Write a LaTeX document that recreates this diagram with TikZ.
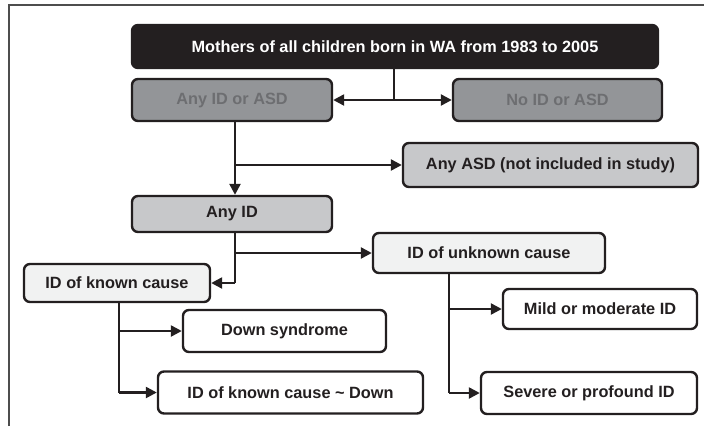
\documentclass[tikz,border=0pt]{standalone}
\usepackage{fontspec}
\setmainfont{Liberation Sans}
\usetikzlibrary{arrows.meta}
\definecolor{ink}{HTML}{231F20}
\definecolor{midgray}{HTML}{939598}
\definecolor{midtext}{HTML}{6D6E71}
\definecolor{lightgray}{HTML}{C7C8CA}
\definecolor{palegray}{HTML}{F1F2F2}
\definecolor{framegray}{HTML}{4D4D4D}
\tikzset{
  box/.style={draw=ink, line width=2.4pt, rounded corners=6pt, inner sep=0pt,
    font=\fontsize{16.3}{19}\selectfont\bfseries, align=center},
  blackbox/.style={box, fill=ink, text=white},
  graybox/.style={box, fill=midgray, text=midtext},
  lgraybox/.style={box, fill=lightgray, text=ink},
  palebox/.style={box, fill=palegray, text=ink},
  whitebox/.style={box, fill=white, text=ink},
  link/.style={draw=ink, line width=2.4pt},
  arr/.style={link, -{Triangle[length=11pt,width=11pt]}},
}
\begin{document}
\begin{tikzpicture}[x=1pt, y=-1pt]
\useasboundingbox (0,0) rectangle (704,426);
% frame
\draw[framegray, line width=1.5pt] (9,426) -- (9,5) -- (704,5);
% nodes
\node[blackbox, minimum width=526pt, minimum height=43pt] (top) at (395,46.5) {Mothers of all children born in WA from 1983 to 2005};
\node[graybox, minimum width=200pt, minimum height=42pt] (anyidasd) at (232,100) {Any ID or ASD};
\node[graybox, minimum width=209pt, minimum height=42pt] (noidasd) at (557.5,100) {No ID or ASD};
\node[lgraybox, minimum width=295pt, minimum height=44pt] (anyasd) at (550.5,165) {Any ASD (not included in study)};
\node[lgraybox, minimum width=200pt, minimum height=36pt] (anyid) at (232,214) {Any ID};
\node[palebox, minimum width=232pt, minimum height=40pt] (idunknown) at (489,253) {ID of unknown cause};
\node[palebox, minimum width=186pt, minimum height=38pt] (idknown) at (117,283) {ID of known cause};
\node[whitebox, minimum width=203pt, minimum height=42pt] (down) at (284.5,331) {Down syndrome};
\node[whitebox, minimum width=265pt, minimum height=42pt] (idkd) at (290.5,392.5) {ID of known cause \textasciitilde{} Down};
\node[whitebox, minimum width=194pt, minimum height=40pt] (mild) at (600,309) {Mild or moderate ID};
\node[whitebox, minimum width=216pt, minimum height=42pt] (severe) at (589,393) {Severe or profound ID};
% junction coordinates
\coordinate (j1) at (394,100);
\coordinate (j2) at (235,165);
\coordinate (j3) at (235,253);
\coordinate (j4) at (235,283);
\coordinate (j5) at (119,331);
\coordinate (j6) at (119,392.5);
\coordinate (j7) at (449,309);
\coordinate (j8) at (449,393);
% connectors
\draw[link] (top.south -| j1) -- (j1);
\draw[arr] (j1) -- (anyidasd.east);
\draw[arr] (j1) -- (noidasd.west);
\draw[arr] (anyidasd.south -| j2) -- (anyid.north -| j2);
\draw[arr] (j2) -- (anyasd.west |- j2);
\draw[link] (anyid.south -| j4) -- (j4);
\draw[arr] (j4) -- (idknown.east |- j4);
\draw[arr] (j3) -- (idunknown.west |- j3);
\draw[link] (idknown.south -| j6) -- (j6);
\draw[arr] (j5) -- (down.west |- j5);
\draw[arr] (j6) -- (idkd.west |- j6);
\draw[link] (idunknown.south -| j8) -- (j8);
\draw[arr] (j7) -- (mild.west |- j7);
\draw[arr] (j8) -- (severe.west |- j8);
\end{tikzpicture}
\end{document}
